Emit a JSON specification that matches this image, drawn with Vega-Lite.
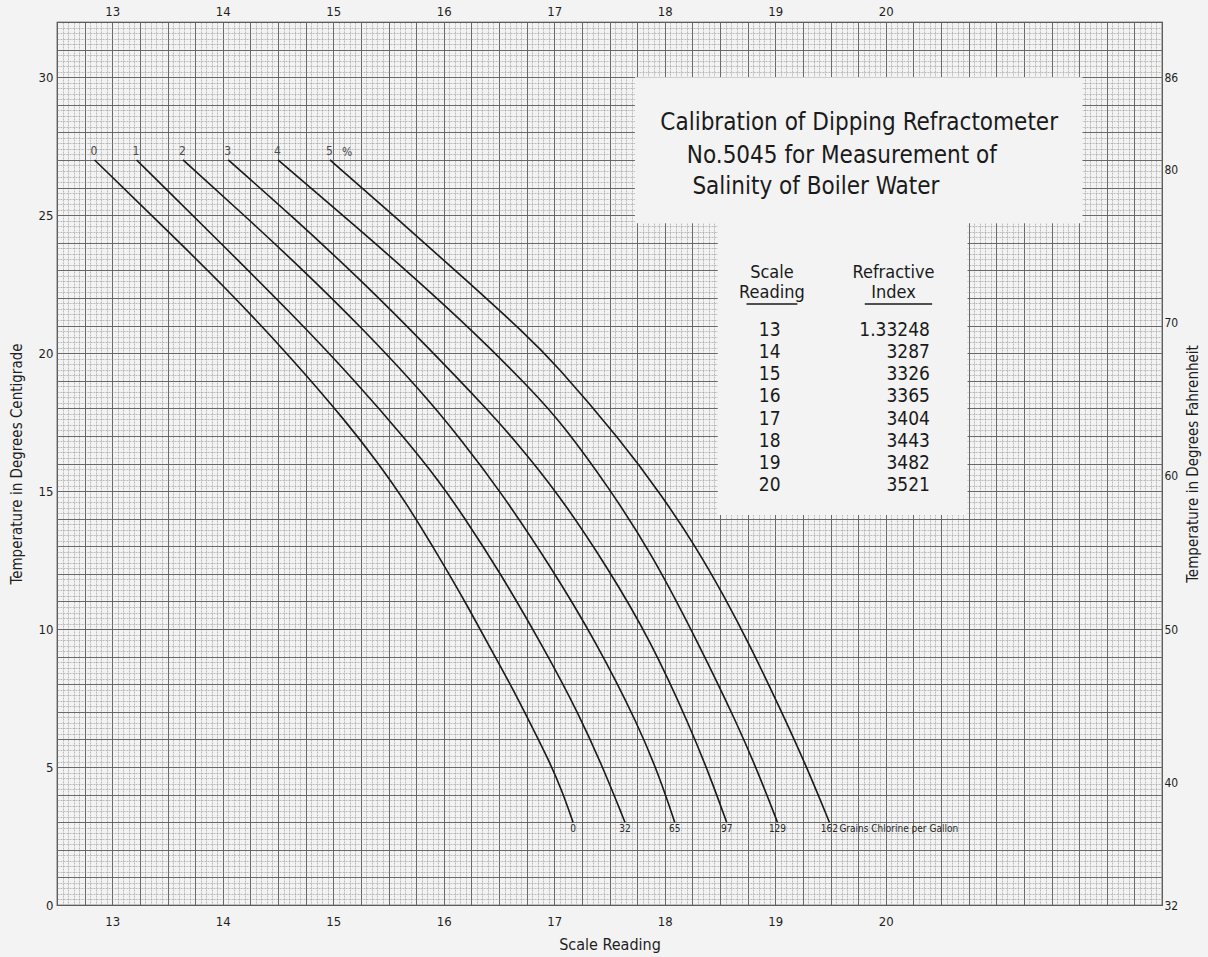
{
  "$schema": "https://vega.github.io/schema/vega-lite/v6.json",
  "width": 1105,
  "height": 883,
  "autosize": {"type": "none"},
  "padding": {"left": 57, "top": 22, "right": 46, "bottom": 52},
  "background": "#f3f3f3",
  "config": {
    "view": {"stroke": "#2a2a2a", "strokeWidth": 1.2},
    "font": "Liberation Sans Narrow, DejaVu Sans Condensed, Roboto, sans-serif",
    "text": {"font": "Liberation Sans Narrow, DejaVu Sans Condensed, Roboto, sans-serif"},
    "axis": {
      "labelFont": "Liberation Sans Narrow, DejaVu Sans Condensed, Roboto, sans-serif",
      "titleFont": "Liberation Sans Narrow, DejaVu Sans Condensed, Roboto, sans-serif",
      "labelColor": "#1e1e1e",
      "titleColor": "#1e1e1e",
      "titleFontWeight": "normal",
      "domain": false,
      "ticks": false,
      "grid": false
    }
  },
  "datasets": {
    "curves": [
      {"pct": "0", "grains": 0, "temp": 27.0, "scale": 12.84},
      {"pct": "0", "grains": 0, "temp": 24.7, "scale": 13.43},
      {"pct": "0", "grains": 0, "temp": 22.4, "scale": 14.02},
      {"pct": "0", "grains": 0, "temp": 19.75, "scale": 14.64},
      {"pct": "0", "grains": 0, "temp": 17.45, "scale": 15.13},
      {"pct": "0", "grains": 0, "temp": 16.1, "scale": 15.39},
      {"pct": "0", "grains": 0, "temp": 14.65, "scale": 15.65},
      {"pct": "0", "grains": 0, "temp": 12.4, "scale": 15.99},
      {"pct": "0", "grains": 0, "temp": 10.8, "scale": 16.22},
      {"pct": "0", "grains": 0, "temp": 9.25, "scale": 16.43},
      {"pct": "0", "grains": 0, "temp": 7.8, "scale": 16.63},
      {"pct": "0", "grains": 0, "temp": 6.45, "scale": 16.8},
      {"pct": "0", "grains": 0, "temp": 5.25, "scale": 16.95},
      {"pct": "0", "grains": 0, "temp": 4.15, "scale": 17.07},
      {"pct": "0", "grains": 0, "temp": 3.0, "scale": 17.17},
      {"pct": "1", "grains": 32, "temp": 27.0, "scale": 13.22},
      {"pct": "1", "grains": 32, "temp": 24.35, "scale": 13.89},
      {"pct": "1", "grains": 32, "temp": 21.45, "scale": 14.62},
      {"pct": "1", "grains": 32, "temp": 18.9, "scale": 15.22},
      {"pct": "1", "grains": 32, "temp": 16.85, "scale": 15.66},
      {"pct": "1", "grains": 32, "temp": 15.4, "scale": 15.95},
      {"pct": "1", "grains": 32, "temp": 14.2, "scale": 16.16},
      {"pct": "1", "grains": 32, "temp": 12.05, "scale": 16.51},
      {"pct": "1", "grains": 32, "temp": 9.35, "scale": 16.9},
      {"pct": "1", "grains": 32, "temp": 6.95, "scale": 17.22},
      {"pct": "1", "grains": 32, "temp": 4.8, "scale": 17.46},
      {"pct": "1", "grains": 32, "temp": 3.0, "scale": 17.64},
      {"pct": "2", "grains": 65, "temp": 27.0, "scale": 13.64},
      {"pct": "2", "grains": 65, "temp": 25.05, "scale": 14.18},
      {"pct": "2", "grains": 65, "temp": 23.0, "scale": 14.73},
      {"pct": "2", "grains": 65, "temp": 20.95, "scale": 15.25},
      {"pct": "2", "grains": 65, "temp": 18.65, "scale": 15.79},
      {"pct": "2", "grains": 65, "temp": 16.85, "scale": 16.16},
      {"pct": "2", "grains": 65, "temp": 14.95, "scale": 16.52},
      {"pct": "2", "grains": 65, "temp": 12.25, "scale": 16.97},
      {"pct": "2", "grains": 65, "temp": 9.6, "scale": 17.37},
      {"pct": "2", "grains": 65, "temp": 6.45, "scale": 17.77},
      {"pct": "2", "grains": 65, "temp": 4.55, "scale": 17.96},
      {"pct": "2", "grains": 65, "temp": 3.0, "scale": 18.09},
      {"pct": "3", "grains": 97, "temp": 27.0, "scale": 14.05},
      {"pct": "3", "grains": 97, "temp": 24.95, "scale": 14.63},
      {"pct": "3", "grains": 97, "temp": 22.65, "scale": 15.25},
      {"pct": "3", "grains": 97, "temp": 20.2, "scale": 15.86},
      {"pct": "3", "grains": 97, "temp": 17.85, "scale": 16.42},
      {"pct": "3", "grains": 97, "temp": 16.85, "scale": 16.64},
      {"pct": "3", "grains": 97, "temp": 14.95, "scale": 17.03},
      {"pct": "3", "grains": 97, "temp": 12.25, "scale": 17.48},
      {"pct": "3", "grains": 97, "temp": 9.6, "scale": 17.87},
      {"pct": "3", "grains": 97, "temp": 6.45, "scale": 18.23},
      {"pct": "3", "grains": 97, "temp": 4.55, "scale": 18.42},
      {"pct": "3", "grains": 97, "temp": 3.0, "scale": 18.56},
      {"pct": "4", "grains": 129, "temp": 27.0, "scale": 14.5},
      {"pct": "4", "grains": 129, "temp": 25.05, "scale": 15.07},
      {"pct": "4", "grains": 129, "temp": 22.9, "scale": 15.69},
      {"pct": "4", "grains": 129, "temp": 20.7, "scale": 16.29},
      {"pct": "4", "grains": 129, "temp": 18.65, "scale": 16.8},
      {"pct": "4", "grains": 129, "temp": 17.4, "scale": 17.08},
      {"pct": "4", "grains": 129, "temp": 15.15, "scale": 17.49},
      {"pct": "4", "grains": 129, "temp": 12.75, "scale": 17.88},
      {"pct": "4", "grains": 129, "temp": 9.6, "scale": 18.29},
      {"pct": "4", "grains": 129, "temp": 6.45, "scale": 18.67},
      {"pct": "4", "grains": 129, "temp": 4.55, "scale": 18.87},
      {"pct": "4", "grains": 129, "temp": 3.0, "scale": 19.02},
      {"pct": "5", "grains": 162, "temp": 27.0, "scale": 14.97},
      {"pct": "5", "grains": 162, "temp": 24.8, "scale": 15.6},
      {"pct": "5", "grains": 162, "temp": 22.55, "scale": 16.23},
      {"pct": "5", "grains": 162, "temp": 20.65, "scale": 16.75},
      {"pct": "5", "grains": 162, "temp": 19.65, "scale": 17.0},
      {"pct": "5", "grains": 162, "temp": 16.85, "scale": 17.6},
      {"pct": "5", "grains": 162, "temp": 14.8, "scale": 17.98},
      {"pct": "5", "grains": 162, "temp": 13.05, "scale": 18.27},
      {"pct": "5", "grains": 162, "temp": 11.25, "scale": 18.53},
      {"pct": "5", "grains": 162, "temp": 9.25, "scale": 18.79},
      {"pct": "5", "grains": 162, "temp": 7.15, "scale": 19.04},
      {"pct": "5", "grains": 162, "temp": 5.05, "scale": 19.28},
      {"pct": "5", "grains": 162, "temp": 3.0, "scale": 19.49}
    ],
    "table": [
      {"reading": 13, "index": "1.33248"},
      {"reading": 14, "index": "3287"},
      {"reading": 15, "index": "3326"},
      {"reading": 16, "index": "3365"},
      {"reading": 17, "index": "3404"},
      {"reading": 18, "index": "3443"},
      {"reading": 19, "index": "3482"},
      {"reading": 20, "index": "3521"}
    ]
  },
  "resolve": {"scale": {"y": "independent"}, "axis": {"x": "independent", "y": "independent"}},
  "layer": [
    {
      "data": {"name": "curves"},
      "mark": {"type": "line", "opacity": 0},
      "encoding": {
        "x": {"field": "scale", "type": "quantitative", "scale": {"domain": [12.5, 22.5], "nice": false, "zero": false},
          "axis": {"orient": "bottom", "grid": true, "tickCount": 200, "gridColor": "#8c8c8c", "gridWidth": 0.55, "gridDash": [2, 1], "labels": false, "ticks": false, "domain": false, "title": null}},
        "y": {"field": "temp", "type": "quantitative", "scale": {"domain": [0, 32], "nice": false, "zero": false},
          "axis": {"orient": "left", "grid": true, "tickCount": 160, "gridColor": "#8c8c8c", "gridWidth": 0.55, "gridDash": [2, 1], "labels": false, "ticks": false, "domain": false, "title": null}}
      }
    },
    {
      "data": {"name": "curves"},
      "mark": {"type": "line", "opacity": 0},
      "encoding": {
        "x": {"field": "scale", "type": "quantitative", "scale": {"domain": [12.5, 22.5], "nice": false, "zero": false},
          "axis": {"orient": "bottom", "grid": true, "values": [12.5,12.75,13,13.25,13.5,13.75,14,14.25,14.5,14.75,15,15.25,15.5,15.75,16,16.25,16.5,16.75,17,17.25,17.5,17.75,18,18.25,18.5,18.75,19,19.25,19.5,19.75,20,20.25,20.5,20.75,21,21.25,21.5,21.75,22,22.25,22.5], "gridColor": "#5e5e5e", "gridWidth": 0.9, "labels": false, "ticks": false, "domain": false, "title": null}},
        "y": {"field": "temp", "type": "quantitative", "scale": {"domain": [0, 32], "nice": false, "zero": false},
          "axis": {"orient": "left", "grid": true, "tickCount": 32, "gridColor": "#5e5e5e", "gridWidth": 0.9, "labels": false, "ticks": false, "domain": false, "title": null}}
      }
    },
    {
      "data": {"values": [{}]},
      "mark": {"type": "rect", "fill": "#f3f3f3"},
      "encoding": {
        "x": {"datum": 17.73, "type": "quantitative", "axis": null},
        "x2": {"datum": 21.78},
        "y": {"datum": 30.0, "type": "quantitative", "scale": {"domain": [0, 32], "nice": false, "zero": false}, "axis": null},
        "y2": {"datum": 24.71}
      }
    },
    {
      "data": {"values": [{}]},
      "mark": {"type": "rect", "fill": "#f3f3f3"},
      "encoding": {
        "x": {"datum": 18.48, "type": "quantitative", "axis": null},
        "x2": {"datum": 20.74},
        "y": {"datum": 24.72, "type": "quantitative", "scale": {"domain": [0, 32], "nice": false, "zero": false}, "axis": null},
        "y2": {"datum": 14.13}
      }
    },
    {
      "data": {"name": "curves"},
      "mark": {"type": "line", "stroke": "#1a1a1a", "strokeWidth": 1.6, "interpolate": "basis"},
      "encoding": {
        "detail": {"field": "pct"},
        "x": {"field": "scale", "type": "quantitative", "scale": {"domain": [12.5, 22.5], "nice": false, "zero": false},
          "axis": {"orient": "bottom", "values": [13, 14, 15, 16, 17, 18, 19, 20], "labelFontSize": 13, "labelPadding": 10, "title": "Scale Reading", "titleFontSize": 16, "titlePadding": 8}},
        "y": {"field": "temp", "type": "quantitative", "scale": {"domain": [0, 32], "nice": false, "zero": false},
          "axis": {"orient": "left", "values": [0, 5, 10, 15, 20, 25, 30], "labelFontSize": 13, "labelPadding": 4, "title": "Temperature in Degrees Centigrade", "titleFontSize": 15, "titlePadding": 14}}
      }
    },
    {
      "data": {"name": "curves"},
      "transform": [{"filter": "datum.temp == 27"}],
      "mark": {"type": "text", "align": "left", "baseline": "middle", "dx": -4, "dy": -9, "fontSize": 12, "color": "#4a4a4a"},
      "encoding": {
        "text": {"field": "pct"},
        "x": {"field": "scale", "type": "quantitative", "scale": {"domain": [12.5, 22.5], "nice": false, "zero": false},
          "axis": {"orient": "top", "values": [13, 14, 15, 16, 17, 18, 19, 20], "labelFontSize": 13, "labelPadding": 4, "title": null}},
        "y": {"field": "temp", "type": "quantitative", "scale": {"domain": [0, 32], "nice": false, "zero": false}, "axis": null}
      }
    },
    {
      "data": {"name": "curves"},
      "transform": [{"filter": "datum.temp == 27 && datum.pct == '5'"}],
      "mark": {"type": "text", "text": "%", "align": "left", "baseline": "middle", "dx": 12, "dy": -8, "fontSize": 12, "color": "#4a4a4a"},
      "encoding": {
        "x": {"field": "scale", "type": "quantitative", "axis": null},
        "y": {"field": "temp", "type": "quantitative", "scale": {"domain": [0, 32], "nice": false, "zero": false}, "axis": null}
      }
    },
    {
      "data": {"name": "curves"},
      "transform": [{"filter": "datum.temp == 3"}],
      "mark": {"type": "text", "align": "center", "baseline": "middle", "dy": 7, "fontSize": 10, "color": "#2a2a2a"},
      "encoding": {
        "text": {"field": "grains"},
        "x": {"field": "scale", "type": "quantitative", "axis": null},
        "y": {"field": "temp", "type": "quantitative", "scale": {"domain": [0, 32], "nice": false, "zero": false},
          "axis": {"orient": "right", "values": [0, 4.4444, 10, 15.5556, 21.1111, 26.6667, 30], "labelExpr": "format(datum.value * 1.8 + 32, 'd')", "labelFontSize": 12, "labelPadding": 2, "title": "Temperature in Degrees Fahrenheit", "titleFontSize": 15, "titleAngle": 270, "titleBaseline": "top", "titlePadding": 8}}
      }
    },
    {
      "data": {"name": "curves"},
      "transform": [{"filter": "datum.temp == 3 && datum.grains == 162"}],
      "mark": {"type": "text", "text": "Grains Chlorine per Gallon", "align": "left", "baseline": "middle", "dx": 10, "dy": 7, "fontSize": 10, "color": "#2a2a2a"},
      "encoding": {
        "x": {"field": "scale", "type": "quantitative", "axis": null},
        "y": {"field": "temp", "type": "quantitative", "scale": {"domain": [0, 32], "nice": false, "zero": false}, "axis": null}
      }
    },
    {
      "data": {"values": [{}]},
      "mark": {"type": "text", "text": "Calibration of Dipping Refractometer", "align": "left", "baseline": "alphabetic", "fontSize": 24, "color": "#1a1a1a"},
      "encoding": {
        "x": {"datum": 17.96, "type": "quantitative", "axis": null},
        "y": {"datum": 28.08, "type": "quantitative", "scale": {"domain": [0, 32], "nice": false, "zero": false}, "axis": null}
      }
    },
    {
      "data": {"values": [{}]},
      "mark": {"type": "text", "text": "No.5045 for Measurement of", "align": "left", "baseline": "alphabetic", "fontSize": 24, "color": "#1a1a1a"},
      "encoding": {
        "x": {"datum": 18.2, "type": "quantitative", "axis": null},
        "y": {"datum": 26.88, "type": "quantitative", "scale": {"domain": [0, 32], "nice": false, "zero": false}, "axis": null}
      }
    },
    {
      "data": {"values": [{}]},
      "mark": {"type": "text", "text": "Salinity of Boiler Water", "align": "left", "baseline": "alphabetic", "fontSize": 24, "color": "#1a1a1a"},
      "encoding": {
        "x": {"datum": 18.25, "type": "quantitative", "axis": null},
        "y": {"datum": 25.76, "type": "quantitative", "scale": {"domain": [0, 32], "nice": false, "zero": false}, "axis": null}
      }
    },
    {
      "data": {"values": [{}]},
      "mark": {"type": "text", "text": ["Scale", "Reading"], "align": "center", "baseline": "middle", "lineHeight": 20, "fontSize": 18, "color": "#1a1a1a"},
      "encoding": {
        "x": {"datum": 18.97, "type": "quantitative", "axis": null},
        "y": {"datum": 22.9, "type": "quantitative", "scale": {"domain": [0, 32], "nice": false, "zero": false}, "axis": null}
      }
    },
    {
      "data": {"values": [{}]},
      "mark": {"type": "text", "text": ["Refractive", "Index"], "align": "center", "baseline": "middle", "lineHeight": 20, "fontSize": 18, "color": "#1a1a1a"},
      "encoding": {
        "x": {"datum": 20.07, "type": "quantitative", "axis": null},
        "y": {"datum": 22.9, "type": "quantitative", "scale": {"domain": [0, 32], "nice": false, "zero": false}, "axis": null}
      }
    },
    {
      "data": {"values": [{}]},
      "mark": {"type": "rule", "stroke": "#1a1a1a", "strokeWidth": 1.5},
      "encoding": {
        "x": {"datum": 18.74, "type": "quantitative", "axis": null},
        "x2": {"datum": 19.2},
        "y": {"datum": 21.78, "type": "quantitative", "scale": {"domain": [0, 32], "nice": false, "zero": false}, "axis": null}
      }
    },
    {
      "data": {"values": [{}]},
      "mark": {"type": "rule", "stroke": "#1a1a1a", "strokeWidth": 1.5},
      "encoding": {
        "x": {"datum": 19.81, "type": "quantitative", "axis": null},
        "x2": {"datum": 20.42},
        "y": {"datum": 21.78, "type": "quantitative", "scale": {"domain": [0, 32], "nice": false, "zero": false}, "axis": null}
      }
    },
    {
      "data": {"name": "table"},
      "mark": {"type": "text", "align": "center", "baseline": "middle", "fontSize": 19, "color": "#1a1a1a"},
      "encoding": {
        "text": {"field": "reading"},
        "x": {"datum": 18.95, "type": "quantitative", "axis": null},
        "y": {"field": "reading", "type": "quantitative", "scale": {"domain": [-0.91, 38.97], "reverse": true, "nice": false, "zero": false}, "axis": null}
      }
    },
    {
      "data": {"name": "table"},
      "mark": {"type": "text", "align": "right", "baseline": "middle", "fontSize": 19, "color": "#1a1a1a"},
      "encoding": {
        "text": {"field": "index"},
        "x": {"datum": 20.4, "type": "quantitative", "axis": null},
        "y": {"field": "reading", "type": "quantitative", "scale": {"domain": [-0.91, 38.97], "reverse": true, "nice": false, "zero": false}, "axis": null}
      }
    }
  ]
}
